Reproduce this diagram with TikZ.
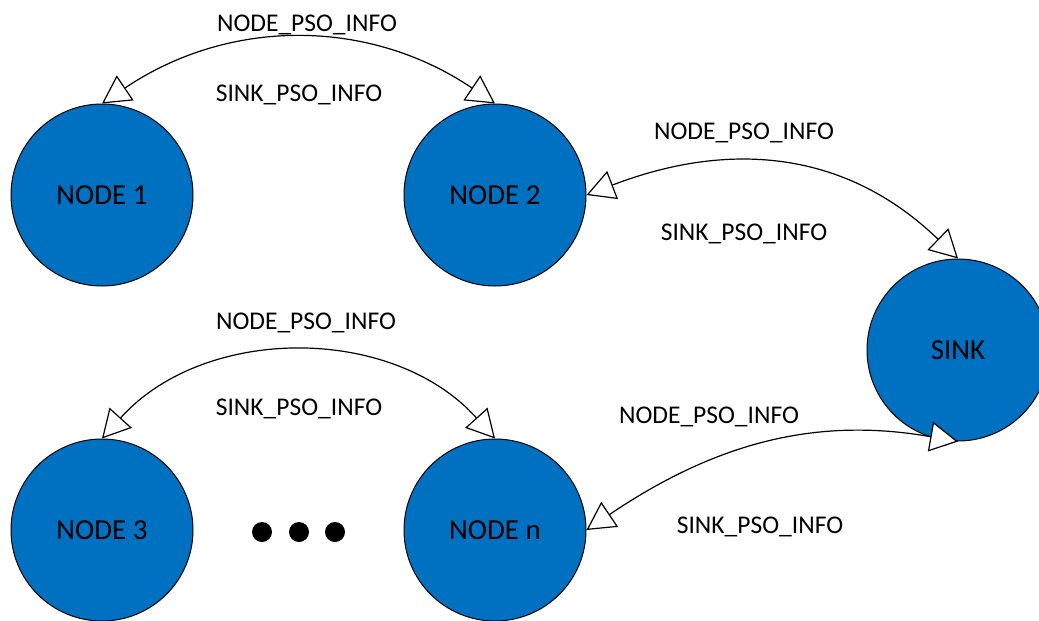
\documentclass[tikz,border=0pt]{standalone}
\usepackage{fontspec}
\setmainfont{Carlito}
\usetikzlibrary{arrows.meta}
\definecolor{nodeblue}{RGB}{0,112,192}
\tikzset{
  netnode/.style={circle, draw=black, line width=1pt, fill=nodeblue, minimum size=182pt, inner sep=0pt, font=\fontsize{29}{34}\selectfont},
  msg/.style={anchor=base, inner sep=0pt, font=\fontsize{25.5}{30}\selectfont},
  link/.style={line width=1.2pt, {Triangle[length=28pt,width=30pt,fill=white]}-{Triangle[length=28pt,width=30pt,fill=white]}},
  dotmark/.style={circle, fill=black, minimum size=20pt, inner sep=0pt}
}
\begin{document}
\begin{tikzpicture}[x=1pt,y=1pt]
\useasboundingbox (0,0) rectangle (1039,-621);
\node[netnode] (n1) at (102,-195) {NODE 1};
\node[netnode] (n2) at (495,-195) {NODE 2};
\node[netnode] (sink) at (958,-350) {SINK};
\node[netnode] (n3) at (102,-530) {NODE 3};
\node[netnode] (nn) at (495,-530) {NODE n};
\node[dotmark] (d1) at (262,-532) {};
\node[dotmark] (d2) at (299,-532) {};
\node[dotmark] (d3) at (335,-532) {};

\draw[link] (n1.90) to[bend left=34] (n2.90);
\draw[link] (n2.0) to[out=21, in=136, looseness=1.05] (sink.90);
\draw[link] (n3.90) to[bend left=48] (nn.90);
\draw[link] (nn.0) to[out=34, in=170] (sink.270);

\node[msg] (l1) at (307,-31) {NODE\_PSO\_INFO};
\node[msg] (l2) at (299,-101) {SINK\_PSO\_INFO};
\node[msg] (l3) at (744,-139) {NODE\_PSO\_INFO};
\node[msg] (l4) at (744,-240) {SINK\_PSO\_INFO};
\node[msg] (l5) at (306,-329) {NODE\_PSO\_INFO};
\node[msg] (l6) at (299,-415) {SINK\_PSO\_INFO};
\node[msg] (l7) at (709,-423) {NODE\_PSO\_INFO};
\node[msg] (l8) at (760,-533) {SINK\_PSO\_INFO};
\end{tikzpicture}
\end{document}
